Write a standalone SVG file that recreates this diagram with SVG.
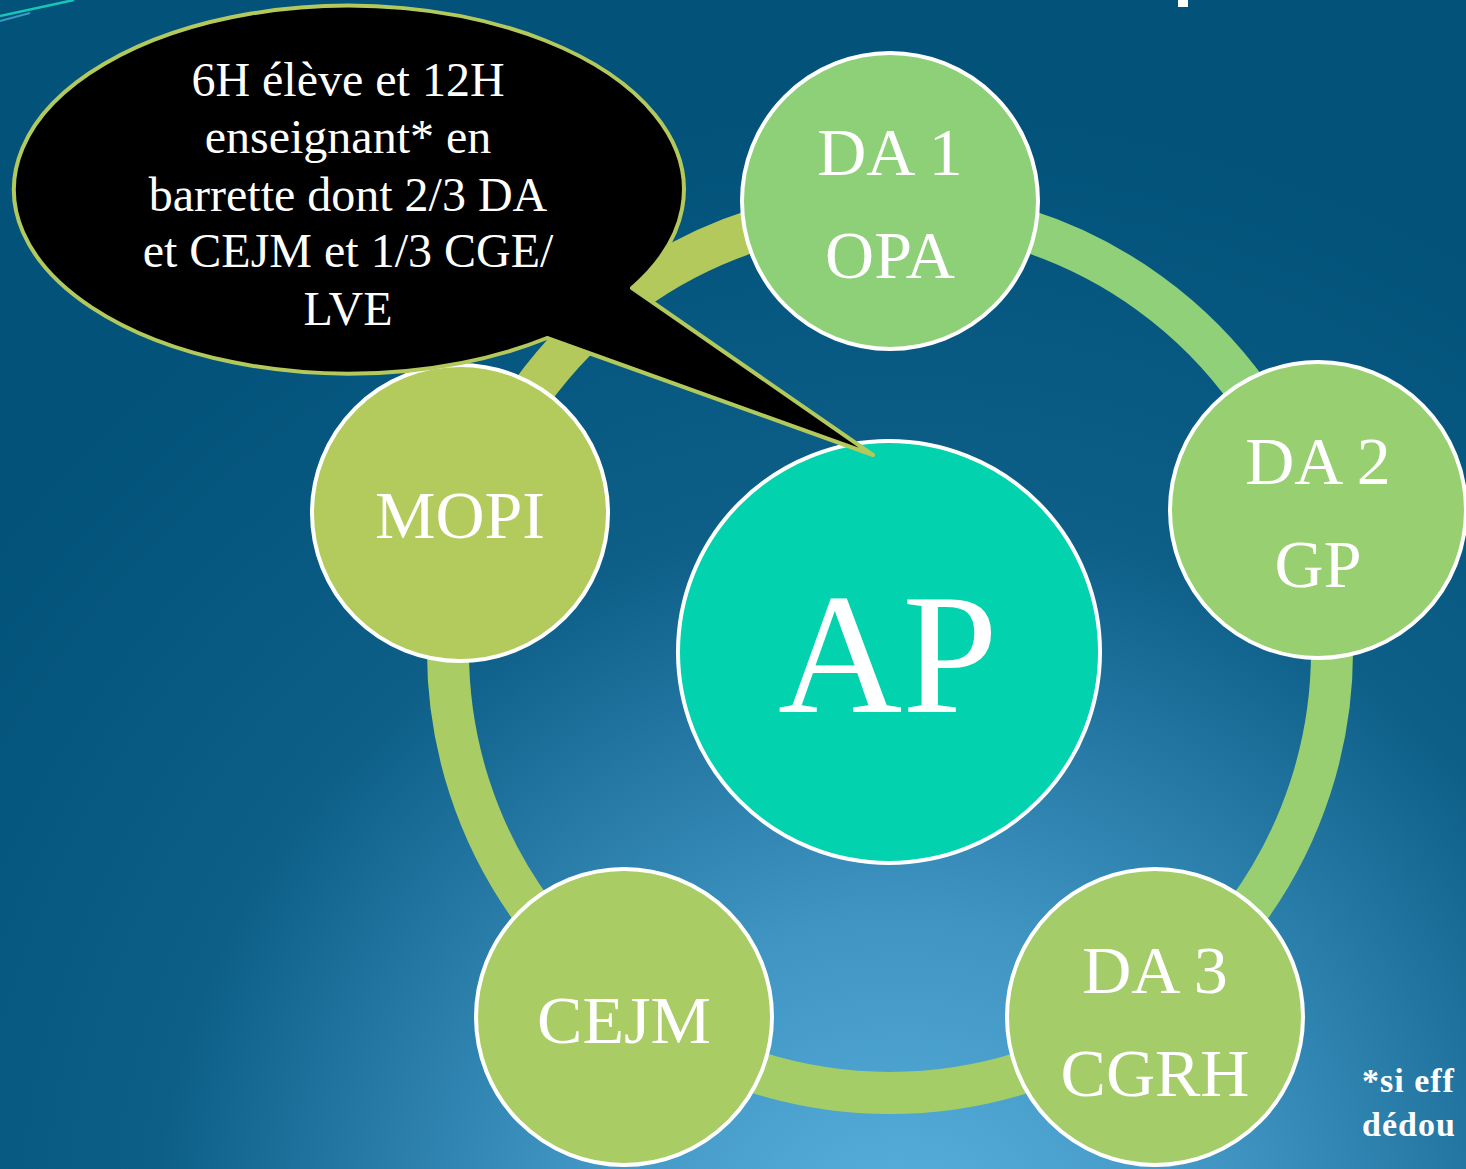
<svg xmlns="http://www.w3.org/2000/svg" width="1466" height="1169" viewBox="0 0 1466 1169">
  <defs>
    <radialGradient id="bg" cx="900" cy="1260" r="1150" gradientUnits="userSpaceOnUse">
      <stop offset="0" stop-color="#5cb3df"/>
      <stop offset="0.3" stop-color="#3f94c2"/>
      <stop offset="0.65" stop-color="#0d5f88"/>
      <stop offset="1" stop-color="#02527a"/>
    </radialGradient>
    <style>
      .ring { fill: none; stroke-width: 42; }
      .node { stroke: #ffffff; stroke-width: 4; }
      .lbl { font-family: "Liberation Serif", "DejaVu Serif", serif; fill: #ffffff; text-anchor: middle; font-size: 68px; }
      .call { font-family: "Liberation Serif", "DejaVu Serif", serif; fill: #ffffff; text-anchor: middle; font-size: 48px; }
      .note { font-family: "Liberation Serif", "DejaVu Serif", serif; fill: #ffffff; font-size: 34px; font-weight: bold; letter-spacing: 1px; }
    </style>
  </defs>

  <rect x="0" y="0" width="1466" height="1169" fill="url(#bg)"/>
  <line x1="0" y1="16" x2="74" y2="0" stroke="#17c5b9" stroke-width="2.5"/>
  <line x1="0" y1="21" x2="30" y2="13" stroke="#3a9ac4" stroke-width="2"/>
  <rect x="1178" y="0" width="10" height="7" fill="#ffffff"/>

  <g id="connectors">
    <path class="ring" stroke="#8fd078" d="M 890 209 A 442 442 0 0 1 1310.4 514.4"/>
    <path class="ring" stroke="#99cf70" d="M 1310.4 514.4 A 442 442 0 0 1 1149.8 1008.6"/>
    <path class="ring" stroke="#a4cd68" d="M 1149.8 1008.6 A 442 442 0 0 1 630.2 1008.6"/>
    <path class="ring" stroke="#aacc64" d="M 630.2 1008.6 A 442 442 0 0 1 469.6 514.4"/>
    <path class="ring" stroke="#b3c95c" d="M 469.6 514.4 A 442 442 0 0 1 890 209"/>
  </g>

  <g id="node-ap">
    <circle class="node" cx="889" cy="652" r="211" fill="#02d3ae"/>
    <text class="lbl" x="888" y="712" style="font-size:172px">AP</text>
  </g>

  <g id="node-da1">
    <circle class="node" cx="890" cy="201" r="148" fill="#8ed077"/>
    <text class="lbl" x="890" y="175">DA 1</text>
    <text class="lbl" x="890" y="278">OPA</text>
  </g>

  <g id="node-da2">
    <circle class="node" cx="1318" cy="510" r="148" fill="#98cf70"/>
    <text class="lbl" x="1318" y="484">DA 2</text>
    <text class="lbl" x="1318" y="587">GP</text>
  </g>

  <g id="node-da3">
    <circle class="node" cx="1155" cy="1017" r="148" fill="#a4cd69"/>
    <text class="lbl" x="1155" y="993">DA 3</text>
    <text class="lbl" x="1155" y="1096">CGRH</text>
  </g>

  <g id="node-cejm">
    <circle class="node" cx="624" cy="1017" r="148" fill="#a9cc65"/>
    <text class="lbl" x="624" y="1043">CEJM</text>
  </g>

  <g id="node-mopi">
    <circle class="node" cx="460" cy="513" r="148" fill="#b3ca5d"/>
    <text class="lbl" x="460" y="538">MOPI</text>
  </g>

  <g id="callout">
    <path d="M 632 288 L 873 455 L 547 338 A 335 184 0 1 1 632 288 Z" fill="#000000" stroke="#b3c95c" stroke-width="4" stroke-linejoin="round"/>
    <text class="call" x="348" y="96">6H élève et 12H</text>
    <text class="call" x="348" y="153">enseignant* en</text>
    <text class="call" x="348" y="211">barrette dont 2/3 DA</text>
    <text class="call" x="348" y="267">et CEJM et 1/3 CGE/</text>
    <text class="call" x="348" y="325">LVE</text>
  </g>

  <g id="footnote">
    <text class="note" x="1362" y="1092">*si eff</text>
    <text class="note" x="1362" y="1136">dédou</text>
  </g>
</svg>
